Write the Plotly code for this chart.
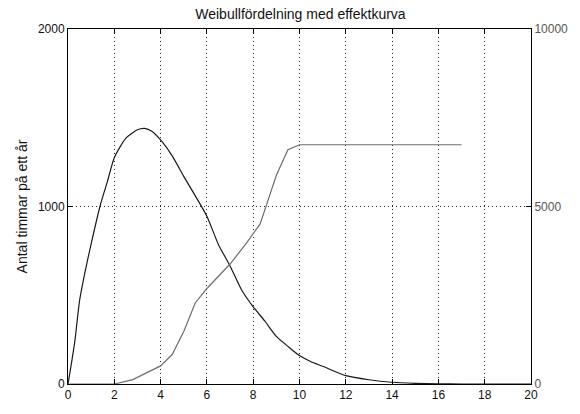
import plotly.graph_objects as go

# Wind speed (m/s) and Weibull-distributed hours per year
wind_speed = [0, 0.15, 0.3, 0.5, 0.75, 1.0, 1.4, 1.7, 2.0, 2.5, 3.0, 3.3, 3.6, 4.0, 4.5, 5.0,
              5.5, 6.0, 6.5, 7.0, 7.5, 8.0, 8.5, 9.0, 9.5, 10.0, 10.5, 11.0, 12.0, 13.0,
              14.0, 15.0, 16.0, 17.0, 18.0, 19.0, 20.0]
hours_per_year = [0, 118, 246, 470, 640, 790, 1010, 1140, 1275, 1385, 1432, 1440, 1425, 1375,
                  1285, 1170, 1060, 945, 785, 665, 530, 435, 355, 268, 212, 160, 125, 100,
                  47, 24, 10, 4, 1, 0, 0, 0, 0]

# Turbine power curve (right axis)
power_speed = [0, 2.0, 2.8, 4.0, 4.5, 5.0, 5.5, 6.0, 7.0, 7.7, 8.3, 8.55, 9.0, 9.5, 10.0, 17.0]
power_output = [0, 0, 125, 510, 830, 1480, 2290, 2690, 3380, 3960, 4510, 5000, 5880, 6600,
                6740, 6740]

x_ticks = list(range(0, 21, 2))
left_ticks = [0, 1000, 2000]
right_ticks = [0, 5000, 10000]

fig = go.Figure()
fig.add_trace(go.Scatter(x=wind_speed, y=hours_per_year, mode="lines",
                         line=dict(color="#1a1a1a", width=1.2, shape="spline", smoothing=0.6),
                         yaxis="y"))
fig.add_trace(go.Scatter(x=power_speed, y=power_output, mode="lines",
                         line=dict(color="#6e6e6e", width=1.2), yaxis="y2"))

font = dict(family="Liberation Sans, Arial, sans-serif", size=12, color="#111111")
label_font = dict(family=font["family"], size=14, color="#111111")
dotted = "1px,3px"

fig.update_layout(
    width=580, height=414,
    margin=dict(l=68, r=47, t=29, b=19),
    paper_bgcolor="white", plot_bgcolor="white",
    showlegend=False,
    font=font,
    title=dict(text="Weibullfördelning med effektkurva", x=0.518, xanchor="center",
               y=0.966, yanchor="middle", font=label_font),
    xaxis=dict(range=[0, 20], tickvals=x_ticks, ticktext=[str(v) for v in x_ticks],
               showgrid=True, gridcolor="#222222", griddash=dotted, gridwidth=1,
               showline=True, linecolor="black", linewidth=1, mirror="ticks",
               ticks="inside", ticklen=5, tickcolor="black", zeroline=False,
               tickfont=font, ticklabelstandoff=0),
    yaxis=dict(range=[0, 2000], tickvals=left_ticks, ticktext=[str(v) for v in left_ticks],
               showgrid=True, gridcolor="#222222", griddash=dotted, gridwidth=1,
               showline=True, linecolor="black", linewidth=1, mirror=True,
               ticks="inside", ticklen=5, tickcolor="black", zeroline=False,
               tickfont=font,
               title=dict(text="Antal timmar på ett år", font=label_font, standoff=6)),
    yaxis2=dict(range=[0, 10000], tickvals=right_ticks, ticktext=[str(v) for v in right_ticks],
                overlaying="y", side="right", showgrid=False,
                showline=True, linecolor="black", linewidth=1,
                ticks="inside", ticklen=5, tickcolor="black", zeroline=False,
                tickfont=dict(family=font["family"], size=12, color="#555555")),
)

fig.write_html("out.html")
